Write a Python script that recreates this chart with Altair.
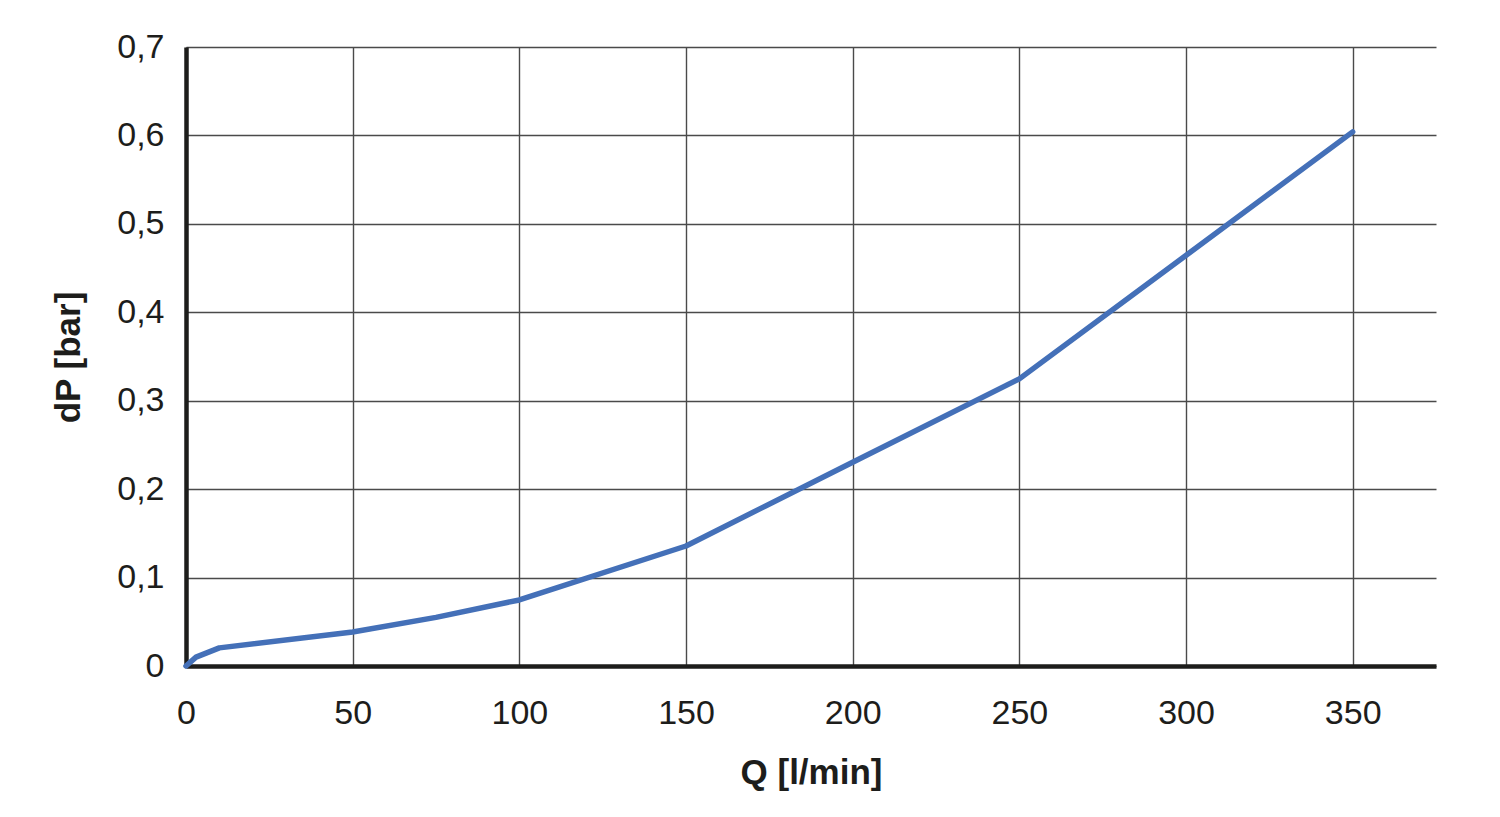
import altair as alt
import pandas as pd

q = [0, 3, 10, 50, 75, 100, 150, 200, 250, 350]
dp = [0.0, 0.010, 0.0205, 0.0385, 0.055, 0.0747, 0.1357, 0.2305, 0.3247, 0.604]
x_ticks = [0, 50, 100, 150, 200, 250, 300, 350]
y_ticks = [0, 0.1, 0.2, 0.3, 0.4, 0.5, 0.6, 0.7]

df = pd.DataFrame({"Q": q, "dP": dp})

FONT = "Liberation Sans"
label_expr = "datum.value == 0 ? '0' : replace(format(datum.value, '.1f'), '.', ',')"

chart = (
    alt.Chart(df)
    .mark_line(color="#4470b8", strokeWidth=5.5, strokeCap="round", strokeJoin="round")
    .encode(
        x=alt.X(
            "Q:Q",
            scale=alt.Scale(domain=[0, 375], nice=False, zero=True),
            axis=alt.Axis(
                title="Q [l/min]",
                values=x_ticks,
                ticks=False,
                labelFontSize=34,
                labelFont=FONT,
                labelColor="#1d1d1b",
                labelPadding=30,
                labelFlush=False,
                domainColor="#1d1d1b",
                domainWidth=4.5,
                gridColor="#4a4a4a",
                gridWidth=1.4,
                titleFont=FONT,
                titleFontSize=35,
                titleFontWeight="bold",
                titleColor="#1d1d1b",
                titleX=625,
                titleY=106,
                titleBaseline="middle",
                titleAlign="center",
            ),
        ),
        y=alt.Y(
            "dP:Q",
            scale=alt.Scale(domain=[0, 0.7], nice=False),
            axis=alt.Axis(
                title="dP [bar]",
                values=y_ticks,
                ticks=False,
                labelExpr=label_expr,
                labelFontSize=34,
                labelFont=FONT,
                labelColor="#1d1d1b",
                labelPadding=22,
                labelFlush=False,
                domainColor="#1d1d1b",
                domainWidth=4.5,
                gridColor="#4a4a4a",
                gridWidth=1.4,
                titleFont=FONT,
                titleFontSize=35,
                titleFontWeight="bold",
                titleColor="#1d1d1b",
                titleX=-118,
                titleY=310,
                titleAngle=270,
                titleBaseline="middle",
                titleAlign="center",
            ),
        ),
    )
    .properties(
        width=1250,
        height=619,
        background="white",
        padding={"left": 186, "top": 47, "right": 64, "bottom": 151},
        autosize=alt.AutoSizeParams(type="none"),
    )
    .configure_view(stroke=None)
)

chart.save("out.html", embed_options={"renderer": "svg", "actions": False})
